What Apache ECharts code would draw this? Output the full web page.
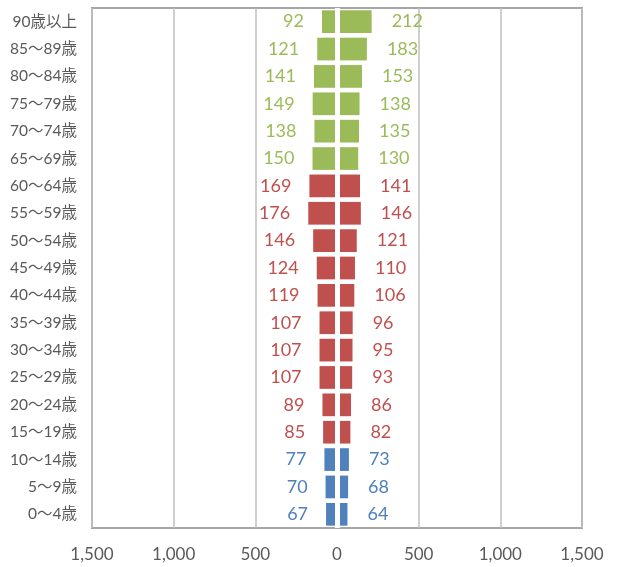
<!DOCTYPE html>
<html>
<head>
<meta charset="utf-8">
<script src="https://cdn.jsdelivr.net/npm/echarts@6/dist/echarts.min.js"></script>
<style>
    html, body { margin: 0; padding: 0; background: #fff; }
    #chart { width: 619px; height: 567px; }
</style>
</head>
<body>
<div id="chart"></div>
<script>
(function () {
    "use strict";

    // age groups, bottom to top
    const ageLabels = [
        "0～4歳", "5～9歳", "10～14歳", "15～19歳", "20～24歳", "25～29歳", "30～34歳",
        "35～39歳", "40～44歳", "45～49歳", "50～54歳", "55～59歳", "60～64歳",
        "65～69歳", "70～74歳", "75～79歳", "80～84歳", "85～89歳", "90歳以上"
    ];
    const leftValues = [67, 70, 77, 85, 89, 107, 107, 107, 119, 124, 146, 176, 169, 150, 138, 149, 141, 121, 92];
    const rightValues = [64, 68, 73, 82, 86, 93, 95, 96, 106, 110, 121, 146, 141, 130, 135, 138, 153, 183, 212];
    const xTicks = [-1500, -1000, -500, 0, 500, 1000, 1500];

    // colour bands: under 15 / 15-64 / 65+
    const YOUNG_END = 3, WORK_END = 13;
    const C = { young: "#4F81BD", work: "#C0504D", old: "#9BBB59", text: "#595959" };
    const FONT = "Lato, 'Noto Sans CJK JP', sans-serif";

    function bandColor(i) {
        if (i < YOUNG_END) return C.young;
        if (i < WORK_END) return C.work;
        return C.old;
    }

    function item(v, i) {
        const col = bandColor(i);
        return { value: v, itemStyle: { color: col }, label: { color: col } };
    }

    const chart = echarts.init(document.getElementById("chart"), null, { renderer: "canvas" });
    chart.setOption({
        animation: false,
        grid: { left: 92, right: 37, top: 8, bottom: 39, show: true, borderColor: "#A6A6A6", borderWidth: 2 },
        xAxis: {
            type: "value",
            min: xTicks[0],
            max: xTicks[xTicks.length - 1],
            interval: 500,
            axisLine: { show: false },
            axisTick: { show: false },
            splitLine: { show: true, lineStyle: { color: "#BFBFBF", width: 1.5 } },
            axisLabel: {
                color: C.text, fontFamily: FONT, fontSize: 17, margin: 18,
                formatter: v => Math.abs(v).toLocaleString("en-US")
            }
        },
        yAxis: {
            type: "category",
            data: ageLabels,
            axisLine: { show: false },
            axisTick: { show: false },
            axisLabel: { color: C.text, fontFamily: FONT, fontSize: 15.5, margin: 15 }
        },
        series: [
            {
                name: "left",
                type: "bar",
                stack: "pop",
                barCategoryGap: "17%",
                data: leftValues.map((v, i) => item(-v, i)),
                label: {
                    show: true, position: "left", distance: 18,
                    fontFamily: FONT, fontSize: 18,
                    formatter: p => Math.abs(p.value)
                },
                markLine: {
                    silent: true, symbol: "none", label: { show: false },
                    lineStyle: { color: "#fff", width: 5, type: "solid" },
                    data: [{ xAxis: 0 }]
                }
            },
            {
                name: "right",
                type: "bar",
                stack: "pop",
                barCategoryGap: "17%",
                data: rightValues.map((v, i) => item(v, i)),
                label: {
                    show: true, position: "right", distance: 20,
                    fontFamily: FONT, fontSize: 18
                }
            }
        ]
    });
})();
</script>
</body>
</html>
